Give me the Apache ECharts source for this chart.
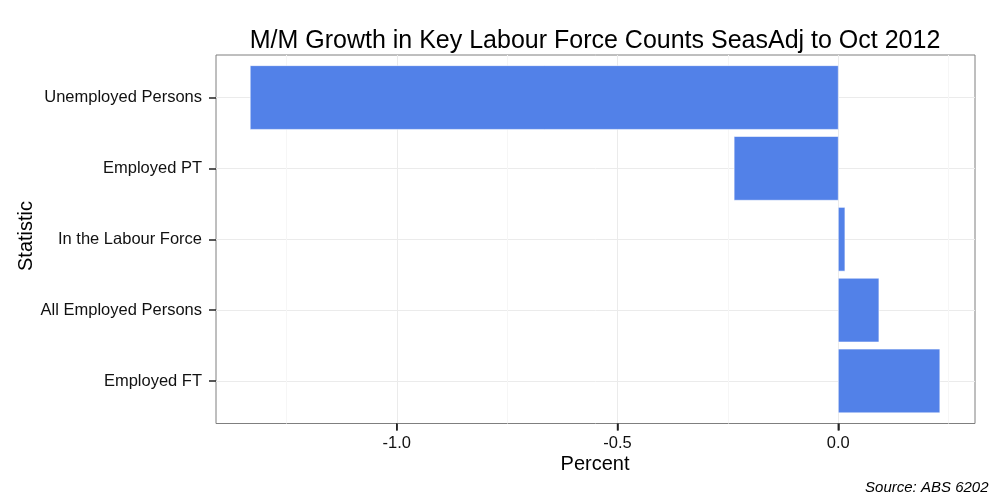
<!DOCTYPE html>
<html>
<head>
<meta charset="utf-8">
<script src="https://cdn.jsdelivr.net/npm/echarts@6/dist/echarts.min.js"></script>
<style>html,body{margin:0;padding:0;background:#fff;}#c{width:1000px;height:500px;}</style>
</head>
<body>
<div id="c"></div>
<script>
const categories = ['Unemployed Persons', 'Employed PT', 'In the Labour Force', 'All Employed Persons', 'Employed FT'];
const values = [-1.332, -0.236, 0.015, 0.092, 0.230];
const majorTicks = [-1.0, -0.5, 0.0];
const minorTicks = [-1.25, -0.75, -0.25, 0.25];
const titleText = 'M/M Growth in Key Labour Force Counts SeasAdj to Oct 2012';
const xTitle = 'Percent';
const yTitle = 'Statistic';
const sourceText = 'Source: ABS 6202';

const X_MIN = -1.4095, X_MAX = 0.3096;
const Y_MIN = -0.6, Y_MAX = 4.6;
const FONT = '"Liberation Sans", Arial, Helvetica, sans-serif';
const chart = echarts.init(document.getElementById('c'), null, {renderer: 'canvas'});
const catIdx = categories.map((_, i) => i);
const data = values.map((v, i) => [v, i]);

chart.setOption({
  animation: false,
  backgroundColor: '#ffffff',
  grid: {
    left: 216, top: 55, width: 759, height: 368.5,
    show: true, borderColor: '#7f7f7f', borderWidth: 1, backgroundColor: '#ffffff'
  },
  xAxis: {
    type: 'value', min: X_MIN, max: X_MAX, position: 'bottom',
    axisLine: {show: false, onZero: false},
    axisTick: {show: true, length: 7, customValues: majorTicks, lineStyle: {color: '#222', width: 1.5}},
    axisLabel: {customValues: majorTicks, formatter: v => v.toFixed(1), fontSize: 16.5, color: '#111', fontFamily: FONT, margin: 11},
    splitLine: {show: true, lineStyle: {color: '#ebebeb', width: 1}}
  },
  yAxis: {
    type: 'value', min: Y_MIN, max: Y_MAX, inverse: true, position: 'left',
    axisLine: {show: false, onZero: false},
    axisTick: {show: true, length: 7, customValues: catIdx, lineStyle: {color: '#222', width: 1.5}},
    axisLabel: {customValues: catIdx, formatter: v => categories[Math.round(v)] || '', fontSize: 16.5, color: '#111', fontFamily: FONT, margin: 14},
    splitLine: {show: true, lineStyle: {color: '#ebebeb', width: 1}}
  },
  series: [{
    type: 'custom',
    encode: {x: 0, y: 1},
    data: data,
    z: 5,
    renderItem: function (params, api) {
      const v = api.value(0), i = api.value(1);
      const p0 = api.coord([0, i]);
      const p1 = api.coord([v, i]);
      const h = api.size([0, 0.9])[1];
      const x = Math.min(p0[0], p1[0]);
      return {
        type: 'rect',
        shape: {x: x, y: p0[1] - h / 2, width: Math.abs(p1[0] - p0[0]), height: h},
        style: {fill: '#5281e8', stroke: 'rgba(255,255,255,0.55)', lineWidth: 1}
      };
    },
    markLine: {
      silent: true, symbol: 'none', z: 1,
      label: {show: false},
      lineStyle: {color: '#f6f6f6', width: 1, type: 'solid'},
      data: minorTicks.map(v => ({xAxis: v}))
    }
  }, {
    type: 'custom',
    clip: false,
    silent: true,
    encode: {x: 0},
    data: majorTicks.map(v => [v, Y_MAX]),
    z: 6,
    renderItem: function (params, api) {
      const p = api.coord([api.value(0), Y_MAX]);
      return {
        type: 'line',
        shape: {x1: p[0], y1: p[1], x2: p[0], y2: p[1] + 7},
        style: {stroke: '#222', lineWidth: 1.5}
      };
    }
  }],
  graphic: [
    {type: 'text', x: 595, y: 41, style: {text: titleText, font: '25px ' + FONT, fill: '#000', align: 'center', verticalAlign: 'middle'}},
    {type: 'text', x: 595, y: 464, style: {text: xTitle, font: '20px ' + FONT, fill: '#000', align: 'center', verticalAlign: 'middle'}},
    {type: 'text', x: 26, y: 236, rotation: Math.PI / 2, style: {text: yTitle, font: '20px ' + FONT, fill: '#000', align: 'center', verticalAlign: 'middle'}},
    {type: 'text', x: 988.5, y: 488, style: {text: sourceText, font: 'italic 15px ' + FONT, fill: '#000', align: 'right', verticalAlign: 'middle'}}
  ]
});
</script>
</body>
</html>
